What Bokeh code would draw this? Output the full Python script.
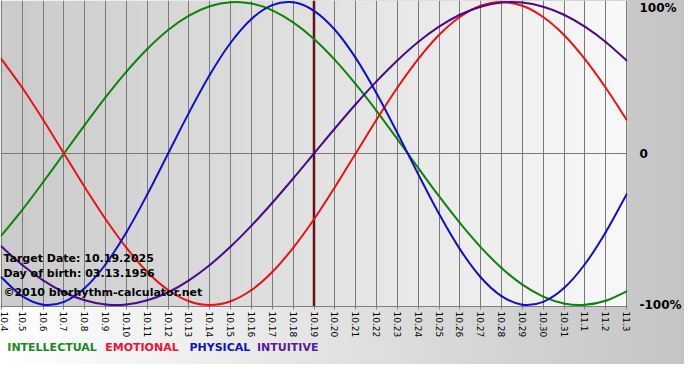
import math
import numpy as np
from bokeh.plotting import figure
from bokeh.layouts import column
from bokeh.models import FixedTicker, Span, Label, CustomJSTickFormatter
from bokeh.core.properties import value
from bokeh.embed import file_html
from bokeh.resources import INLINE

# ---- data ----
days = ["10.4", "10.5", "10.6", "10.7", "10.8", "10.9", "10.10", "10.11", "10.12",
        "10.13", "10.14", "10.15", "10.16", "10.17", "10.18", "10.19", "10.20",
        "10.21", "10.22", "10.23", "10.24", "10.25", "10.26", "10.27", "10.28",
        "10.29", "10.30", "10.31", "11.1", "11.2", "11.3"]

intellectual = [-0.541, -0.372, -0.189, 0.0, 0.189, 0.372, 0.541, 0.690, 0.815, 0.910,
                0.972, 0.999, 0.990, 0.945, 0.866, 0.756, 0.618, 0.458, 0.282, 0.095,
                -0.095, -0.282, -0.458, -0.618, -0.756, -0.866, -0.945, -0.990, -0.999,
                -0.972, -0.910]
emotional = [0.623, 0.434, 0.223, 0.0, -0.223, -0.434, -0.623, -0.782, -0.901, -0.975,
             -1.0, -0.975, -0.901, -0.782, -0.623, -0.434, -0.223, 0.0, 0.223, 0.434,
             0.623, 0.782, 0.901, 0.975, 1.0, 0.975, 0.901, 0.782, 0.623, 0.434, 0.223]
physical = [-0.817, -0.942, -0.998, -0.979, -0.888, -0.731, -0.520, -0.270, 0.0, 0.270,
            0.520, 0.731, 0.888, 0.979, 0.998, 0.942, 0.817, 0.631, 0.398, 0.136,
            -0.136, -0.398, -0.631, -0.817, -0.942, -0.998, -0.979, -0.888, -0.731,
            -0.520, -0.270]
intuitive = [-0.614, -0.736, -0.837, -0.916, -0.969, -0.997, -0.997, -0.969, -0.916,
             -0.837, -0.736, -0.614, -0.476, -0.325, -0.165, 0.0, 0.165, 0.325, 0.476,
             0.614, 0.736, 0.837, 0.916, 0.969, 0.997, 0.997, 0.969, 0.916, 0.837,
             0.736, 0.614]

target_day = "10.19"
target_text = "Target Date: 10.19.2025"
birth_text = "Day of birth: 03.13.1956"
copyright_text = "\u00a92010 biorhythm-calculator.net"

series_names = ["INTELLECTUAL", "EMOTIONAL", "PHYSICAL", "INTUITIVE"]
series_colors = ["#0a850a", "#ee1111", "#1111cc", "#4b0a8a"]
legend_colors = ["#1a8a1a", "#ee1133", "#1111cc", "#5a1a9a"]

x = list(range(len(days)))
x0, x1 = -0.046, len(days) - 1 + 0.046
y0, y1 = -1.01, 1.01

BG = {"background": "linear-gradient(to right, #ffffff 0%, #c4c4c4 100%)"}

p = figure(width=684, height=340, x_range=(x0, x1), y_range=(y0, y1),
           output_backend="svg", toolbar_location=None, y_axis_location="right",
           min_border_left=0, min_border_top=0, min_border_right=48, min_border_bottom=32,
           background_fill_alpha=0, border_fill_alpha=0, outline_line_color=None,
           styles=BG)

# gradient background of the plot frame
n = 256
g = np.linspace(203, 249, n).astype(np.uint8)
img = np.empty((1, n), dtype=np.uint32)
view = img.view(dtype=np.uint8).reshape((1, n, 4))
view[0, :, 0] = g
view[0, :, 1] = g
view[0, :, 2] = g
view[0, :, 3] = 255
p.image_rgba(image=[img], x=x0, y=y0, dw=x1 - x0, dh=y1 - y0, level="image")

# grids
p.xaxis.ticker = FixedTicker(ticks=x)
p.xgrid.ticker = FixedTicker(ticks=x)
p.xgrid.grid_line_color = "#7a7a7a"
p.xgrid.grid_line_width = 1
p.ygrid.ticker = FixedTicker(ticks=[0])
p.ygrid.grid_line_color = "#7a7a7a"
p.ygrid.grid_line_width = 1

p.add_layout(Span(location=days.index(target_day), dimension="height",
                  line_color="#6b1010", line_width=2.5, level="underlay"))


def smooth_segments(xs, ys):
    """Catmull-Rom smoothing through the daily points, as cubic Bezier segments."""
    xs = np.asarray(xs, dtype=float)
    ys = np.asarray(ys, dtype=float)
    px = np.concatenate([[xs[0]], xs, [xs[-1]]])
    py = np.concatenate([[ys[0]], ys, [ys[-1]]])
    d = {"x0": [], "y0": [], "x1": [], "y1": [], "cx0": [], "cy0": [], "cx1": [], "cy1": []}
    for i in range(len(xs) - 1):
        a, b, c, e = i, i + 1, i + 2, i + 3
        d["x0"].append(px[b]); d["y0"].append(py[b])
        d["x1"].append(px[c]); d["y1"].append(py[c])
        d["cx0"].append(px[b] + (px[c] - px[a]) / 6); d["cy0"].append(py[b] + (py[c] - py[a]) / 6)
        d["cx1"].append(px[c] - (px[e] - px[b]) / 6); d["cy1"].append(py[c] - (py[e] - py[b]) / 6)
    return d


for vals, col in zip([intellectual, emotional, physical, intuitive], series_colors):
    s = smooth_segments(x, vals)
    p.bezier(x0=s["x0"], y0=s["y0"], x1=s["x1"], y1=s["y1"],
             cx0=s["cx0"], cy0=s["cy0"], cx1=s["cx1"], cy1=s["cy1"],
             line_color=col, line_width=2, line_cap="round")

# x axis
p.xaxis.major_label_overrides = {i: d for i, d in enumerate(days)}
p.xaxis.major_label_orientation = -math.pi / 2
p.xaxis.major_label_text_font = "DejaVu Sans"
p.xaxis.major_label_text_font_size = "9px"
p.xaxis.major_label_text_color = "#000000"
p.xaxis.major_label_standoff = 2
p.xaxis.axis_line_color = "#808080"
p.xaxis.major_tick_line_color = "#808080"
p.xaxis.major_tick_out = 3
p.xaxis.major_tick_in = 0
p.xaxis.minor_tick_line_color = None

# right axis
p.yaxis.ticker = FixedTicker(ticks=[-1.0, 0.0, 0.965])
p.yaxis.formatter = CustomJSTickFormatter(
    code="return tick > 0.5 ? '100%' : (tick < -0.5 ? '-100%' : '0');")
p.yaxis.major_tick_line_color = None
p.yaxis.minor_tick_line_color = None
p.yaxis.axis_line_color = None
p.yaxis.major_label_standoff = 6
p.yaxis.major_label_text_font = "DejaVu Sans"
p.yaxis.major_label_text_font_style = "bold"
p.yaxis.major_label_text_font_size = "12px"
p.yaxis.major_label_text_color = "#000000"

# in-plot texts
for txt, yy in zip([target_text, birth_text, copyright_text], [-0.693, -0.795, -0.92]):
    p.add_layout(Label(x=0.093, y=yy, text=txt, text_font="DejaVu Sans",
                       text_font_style="bold", text_font_size="11px",
                       text_baseline="middle", text_color="#000000"))

# legend row: a strip below the chart
leg = figure(width=684, height=24, x_range=(0, 684), y_range=(0, 24),
             output_backend="svg", toolbar_location=None,
             x_axis_location=None, y_axis_location=None,
             min_border=0, min_border_left=0, min_border_top=0,
             min_border_right=0, min_border_bottom=0,
             background_fill_alpha=0, border_fill_alpha=0, outline_line_color=None,
             styles=BG)
leg.grid.visible = False
leg.text(x=[7.4, 114.2, 206.1, 279.8], y=[17, 17, 17, 17], text=series_names,
         text_color=legend_colors, text_font=value("DejaVu Sans"),
         text_font_style="bold", text_font_size="11px", text_baseline="middle")

layout = column(p, leg, spacing=0)
open("out.html", "w").write(file_html(layout, INLINE))
